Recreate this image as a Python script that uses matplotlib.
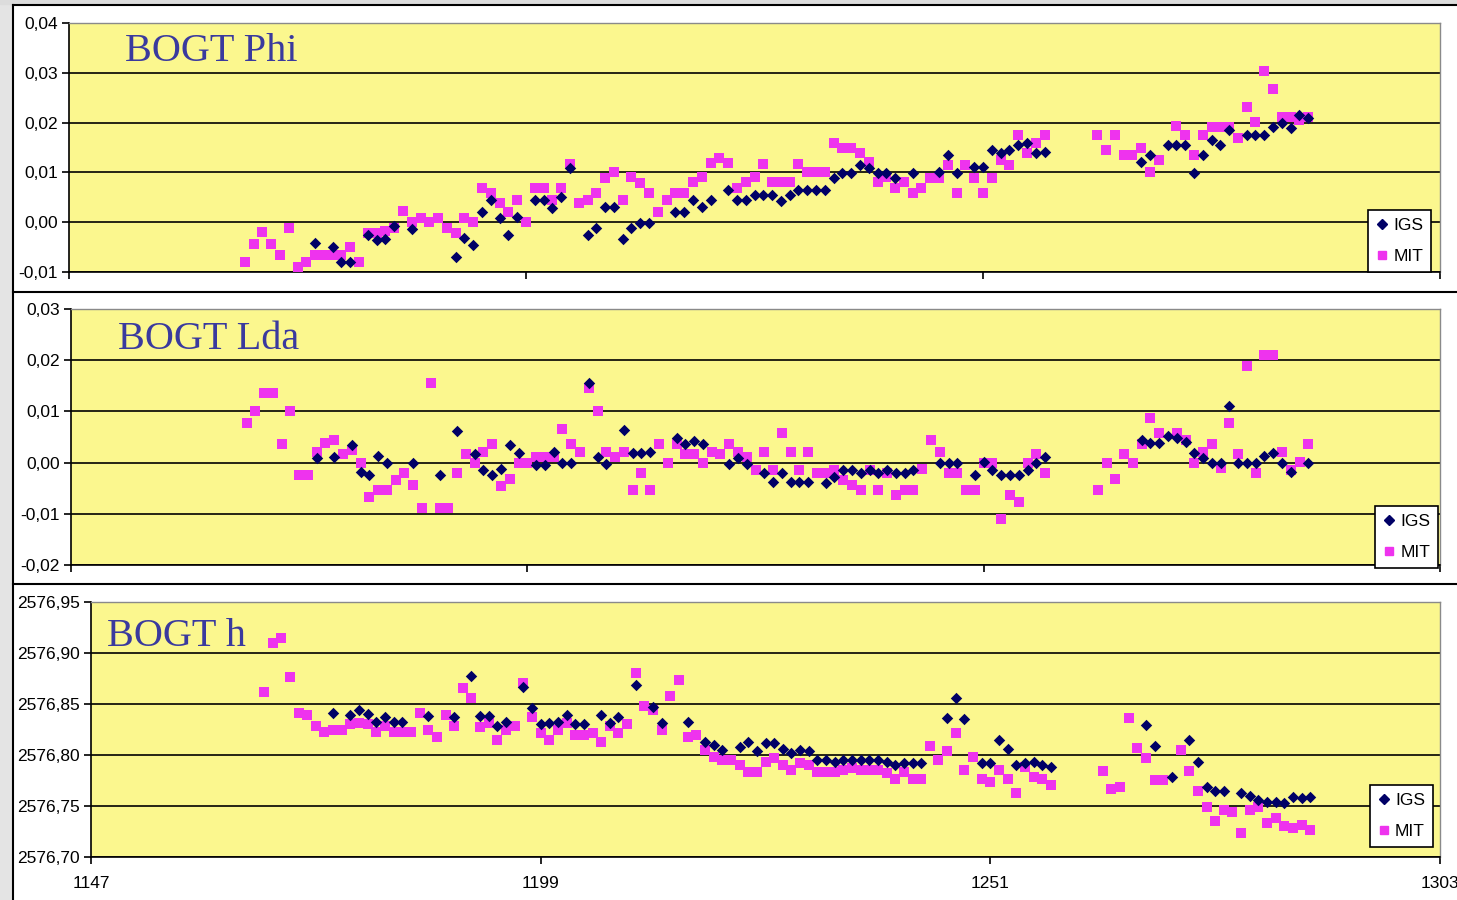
import numpy as np
import matplotlib
matplotlib.use("Agg")
import matplotlib.pyplot as plt
from matplotlib.lines import Line2D
from matplotlib.patches import Rectangle
from matplotlib.ticker import FuncFormatter

nan = np.nan

# daily solutions, one value per day from 1167 to 1288
days = np.arange(1167, 1289)
x_ticks = [1147, 1199, 1251, 1303]

phi_igs = [
    nan, nan, nan, nan, nan, nan, nan, nan, -0.0042, nan,
    -0.0050, -0.0080, -0.0080, nan, -0.0026, -0.0036, -0.0034, -0.0008, nan, -0.0014,
    nan, nan, nan, nan, -0.0070, -0.0032, -0.0046, 0.0020, 0.0045, 0.0008,
    -0.0026, 0.0010, nan, 0.0045, 0.0045, 0.0029, 0.0051, 0.0109, nan, -0.0026,
    -0.0012, 0.0031, 0.0031, -0.0034, -0.0012, -0.0002, -0.0002, nan, nan, 0.0021,
    0.0021, 0.0045, 0.0031, 0.0045, nan, 0.0065, 0.0045, 0.0045, 0.0055, 0.0055,
    0.0055, 0.0043, 0.0055, 0.0065, 0.0065, 0.0065, 0.0065, 0.0089, 0.0099, 0.0099,
    0.0115, 0.0109, 0.0099, 0.0099, 0.0089, nan, 0.0099, nan, nan, 0.0101,
    0.0135, 0.0099, nan, 0.0111, 0.0111, 0.0145, 0.0139, 0.0145, 0.0155, 0.0159,
    0.0139, 0.0141, nan, nan, nan, nan, nan, nan, nan, nan,
    nan, nan, 0.0121, 0.0135, nan, 0.0155, 0.0155, 0.0155, 0.0099, 0.0135,
    0.0165, 0.0155, 0.0185, nan, 0.0175, 0.0175, 0.0175, 0.0191, 0.0199, 0.0189,
    0.0215, 0.0209,
]
phi_mit = [
    -0.0080, -0.0044, -0.0020, -0.0044, -0.0066, -0.0012, -0.0090, -0.0080, -0.0066, -0.0066,
    -0.0066, -0.0066, -0.0050, -0.0080, -0.0022, -0.0022, -0.0018, -0.0012, 0.0022, 0.0001,
    0.0008, 0.0000, 0.0008, -0.0012, -0.0022, 0.0008, 0.0000, 0.0068, 0.0058, 0.0039,
    0.0021, 0.0045, 0.0000, 0.0069, 0.0069, 0.0045, 0.0069, 0.0117, 0.0039, 0.0045,
    0.0059, 0.0089, 0.0101, 0.0045, 0.0091, 0.0079, 0.0059, 0.0021, 0.0045, 0.0059,
    0.0059, 0.0081, 0.0091, 0.0119, 0.0129, 0.0119, 0.0069, 0.0081, 0.0091, 0.0117,
    0.0081, 0.0081, 0.0081, 0.0117, 0.0101, 0.0101, 0.0101, 0.0159, 0.0149, 0.0149,
    0.0139, 0.0121, 0.0081, 0.0091, 0.0069, 0.0081, 0.0059, 0.0069, 0.0089, 0.0089,
    0.0115, 0.0059, 0.0115, 0.0089, 0.0059, 0.0089, 0.0125, 0.0115, 0.0175, 0.0139,
    0.0159, 0.0175, nan, nan, nan, nan, nan, 0.0175, 0.0145, 0.0175,
    0.0135, 0.0135, 0.0149, 0.0101, 0.0125, nan, 0.0193, 0.0175, 0.0135, 0.0175,
    0.0191, 0.0191, 0.0191, 0.0169, 0.0231, 0.0201, 0.0304, 0.0267, 0.0211, 0.0211,
    0.0205, 0.0211,
]

lda_igs = [
    nan, nan, nan, nan, nan, nan, nan, nan, 0.0009, nan,
    0.0011, nan, 0.0035, -0.0018, -0.0024, 0.0013, 0.0000, nan, nan, 0.0000,
    nan, nan, -0.0024, nan, 0.0062, nan, 0.0016, -0.0014, -0.0024, -0.0012,
    0.0035, 0.0019, nan, -0.0004, -0.0004, 0.0021, 0.0000, 0.0000, nan, 0.0155,
    0.0011, -0.0002, nan, 0.0064, 0.0019, 0.0019, 0.0021, nan, nan, 0.0048,
    0.0037, 0.0042, 0.0037, nan, nan, -0.0002, 0.0009, -0.0002, nan, -0.0020,
    -0.0037, -0.0020, -0.0037, -0.0037, -0.0037, nan, -0.0039, -0.0028, -0.0014, -0.0014,
    -0.0020, -0.0014, -0.0020, -0.0014, -0.0020, -0.0020, -0.0014, nan, nan, 0.0000,
    0.0000, 0.0000, nan, -0.0024, 0.0002, -0.0014, -0.0024, -0.0024, -0.0024, -0.0014,
    0.0000, 0.0011, nan, nan, nan, nan, nan, nan, nan, nan,
    nan, nan, 0.0045, 0.0039, 0.0039, 0.0052, 0.0048, 0.0041, 0.0019, 0.0009,
    0.0000, 0.0000, 0.0111, 0.0000, 0.0000, 0.0000, 0.0013, 0.0019, 0.0000, -0.0018,
    nan, 0.0000,
]
lda_mit = [
    0.0078, 0.0100, 0.0135, 0.0135, 0.0037, 0.0101, -0.0024, -0.0024, 0.0021, 0.0039,
    0.0045, 0.0016, 0.0025, 0.0000, -0.0067, -0.0053, -0.0053, -0.0034, -0.0020, -0.0044,
    -0.0089, 0.0155, -0.0089, -0.0089, -0.0020, 0.0016, 0.0000, 0.0020, 0.0036, -0.0046,
    -0.0032, 0.0000, 0.0000, 0.0011, 0.0011, 0.0011, 0.0066, 0.0037, 0.0021, 0.0146,
    0.0101, 0.0021, 0.0011, 0.0021, -0.0053, -0.0020, -0.0053, 0.0037, 0.0000, 0.0037,
    0.0016, 0.0016, 0.0000, 0.0021, 0.0016, 0.0037, 0.0021, 0.0011, -0.0014, 0.0021,
    -0.0014, 0.0058, 0.0021, -0.0014, 0.0021, -0.0020, -0.0020, -0.0014, -0.0034, -0.0044,
    -0.0053, -0.0014, -0.0053, -0.0020, -0.0063, -0.0053, -0.0053, -0.0012, 0.0045, 0.0021,
    -0.0020, -0.0020, -0.0053, -0.0053, 0.0000, 0.0000, -0.0110, -0.0063, -0.0076, 0.0000,
    0.0016, -0.0020, nan, nan, nan, nan, nan, -0.0053, 0.0000, -0.0032,
    0.0016, 0.0000, 0.0037, 0.0087, 0.0058, nan, 0.0058, 0.0045, 0.0000, 0.0021,
    0.0037, -0.0010, 0.0077, 0.0016, 0.0189, -0.0020, 0.0210, 0.0210, 0.0021, -0.0014,
    0.0002, 0.0037,
]

h_igs = [
    nan, nan, nan, nan, nan, nan, nan, nan, 2576.841, nan,
    2576.839, 2576.844, 2576.840, 2576.832, 2576.837, 2576.832, 2576.832, nan, nan, 2576.838,
    nan, nan, 2576.837, nan, 2576.877, 2576.838, 2576.838, 2576.828, 2576.832, nan,
    2576.867, 2576.846, 2576.830, 2576.831, 2576.832, 2576.839, 2576.830, 2576.830, nan, 2576.839,
    2576.831, 2576.837, nan, 2576.869, nan, 2576.847, 2576.831, nan, nan, 2576.832,
    nan, 2576.813, 2576.810, 2576.805, nan, 2576.808, 2576.813, 2576.804, 2576.812, 2576.812,
    2576.806, 2576.802, 2576.805, 2576.804, 2576.795, 2576.795, 2576.793, 2576.795, 2576.795, 2576.795,
    2576.795, 2576.795, 2576.793, 2576.790, 2576.792, 2576.792, 2576.792, nan, nan, 2576.836,
    2576.856, 2576.835, nan, 2576.792, 2576.792, 2576.815, 2576.806, 2576.790, 2576.792, 2576.793,
    2576.790, 2576.788, nan, nan, nan, nan, nan, nan, nan, nan,
    nan, nan, 2576.829, 2576.809, nan, 2576.778, nan, 2576.815, 2576.793, 2576.769,
    2576.765, 2576.765, nan, 2576.763, 2576.760, 2576.756, 2576.754, 2576.754, 2576.753, 2576.759,
    2576.758, 2576.759,
]
h_mit = [
    2576.862, 2576.910, 2576.915, 2576.876, 2576.841, 2576.839, 2576.828, 2576.823, 2576.825, 2576.825,
    2576.830, 2576.831, 2576.830, 2576.823, 2576.828, 2576.823, 2576.823, 2576.823, 2576.841, 2576.825,
    2576.818, 2576.839, 2576.828, 2576.866, 2576.856, 2576.827, 2576.831, 2576.815, 2576.825, 2576.828,
    2576.871, 2576.837, 2576.822, 2576.815, 2576.825, 2576.831, 2576.820, 2576.820, 2576.822, 2576.813,
    2576.828, 2576.822, 2576.830, 2576.880, 2576.848, 2576.844, 2576.825, 2576.858, 2576.874, 2576.818,
    2576.820, 2576.805, 2576.798, 2576.795, 2576.795, 2576.790, 2576.783, 2576.783, 2576.793, 2576.797,
    2576.790, 2576.785, 2576.792, 2576.790, 2576.783, 2576.783, 2576.783, 2576.785, 2576.787, 2576.785,
    2576.785, 2576.785, 2576.782, 2576.776, 2576.783, 2576.776, 2576.776, 2576.809, 2576.795, 2576.804,
    2576.822, 2576.785, 2576.798, 2576.776, 2576.774, 2576.785, 2576.776, 2576.763, 2576.788, 2576.778,
    2576.776, 2576.771, nan, nan, nan, nan, nan, 2576.784, 2576.767, 2576.769,
    2576.836, 2576.807, 2576.797, 2576.775, 2576.775, nan, 2576.805, 2576.784, 2576.765, 2576.749,
    2576.735, 2576.746, 2576.744, 2576.724, 2576.746, 2576.749, 2576.733, 2576.738, 2576.730, 2576.728,
    2576.731, 2576.726,
]

phi_ticks = [-0.01, 0.00, 0.01, 0.02, 0.03, 0.04]
lda_ticks = [-0.02, -0.01, 0.00, 0.01, 0.02, 0.03]
h_ticks = [2576.70, 2576.75, 2576.80, 2576.85, 2576.90, 2576.95]

YELLOW = "#fbf78e"
NAVY = "#000066"
MAGENTA = "#ee33ee"
TITLE_BLUE = "#3a3a9e"
TICK_FONT = ["Liberation Sans Narrow", "Liberation Sans", "DejaVu Sans"]

W, H = 1457, 900


def comma_fmt(v, _pos):
    return f"{round(v, 4):.2f}".replace(".", ",").replace("-0,00", "0,00")


def fig_line(fig, x0, y0, x1, y1, **kw):
    # coordinates in pixels from the top-left corner
    fig.add_artist(Line2D([x0 / W, x1 / W], [1 - y0 / H, 1 - y1 / H],
                          transform=fig.transFigure, **kw))


def draw_panel(fig, rect, title, title_xy, igs, mit, ticks, legend_anchor, show_x):
    ax = fig.add_axes(rect)
    ax.set_facecolor(YELLOW)
    ax.scatter(days, mit, marker="s", s=62, color=MAGENTA, linewidths=0,
               zorder=3, label="MIT")
    ax.scatter(days, igs, marker="D", s=34, color=NAVY, linewidths=0,
               zorder=4, label="IGS")

    ax.set_xlim(x_ticks[0], x_ticks[-1])
    ax.set_ylim(ticks[0], ticks[-1])
    ax.set_xticks(x_ticks)
    ax.set_yticks(ticks)
    ax.yaxis.set_major_formatter(FuncFormatter(comma_fmt))
    ax.yaxis.grid(True, color="black", linewidth=1.2)
    ax.set_axisbelow(True)

    for side in ("left", "bottom"):
        ax.spines[side].set_color("black")
        ax.spines[side].set_linewidth(1.2)
    for side in ("top", "right"):
        ax.spines[side].set_color("#8a8a8a")
        ax.spines[side].set_linewidth(1.0)

    ax.tick_params(axis="both", direction="out", length=5, width=1.2,
                   color="black", labelsize=12.5, pad=3)
    ax.tick_params(axis="x", labelbottom=show_x, pad=9)
    for lab in ax.get_yticklabels() + ax.get_xticklabels():
        lab.set_family(TICK_FONT)

    ax.text(title_xy[0], title_xy[1], title, transform=ax.transAxes,
            fontsize=29, family=["Liberation Serif", "DejaVu Serif"],
            color=TITLE_BLUE, va="center", ha="left", zorder=5)

    handles = [
        Line2D([], [], linestyle="none", marker="D", markersize=5,
               color=NAVY, label="IGS"),
        Line2D([], [], linestyle="none", marker="s", markersize=6,
               color=MAGENTA, label="MIT"),
    ]
    leg = ax.legend(handles=handles, loc="lower left",
                    bbox_to_anchor=legend_anchor, borderaxespad=0,
                    frameon=True, fancybox=False, framealpha=1,
                    edgecolor="black", facecolor="white",
                    prop={"family": TICK_FONT, "size": 12.5},
                    handlelength=0.7, handletextpad=0.3,
                    borderpad=0.45, labelspacing=0.9)
    leg.get_frame().set_linewidth(1.2)
    leg.set_zorder(6)
    return ax


fig = plt.figure(figsize=(W / 100, H / 100), dpi=100)
fig.patch.set_facecolor("white")

# grey sheet margin on the left and top
fig.add_artist(Rectangle((0, 0), 12 / W, 1, transform=fig.transFigure,
                         color="#e4e4e4", zorder=0))
fig.add_artist(Rectangle((0, 1 - 4 / H), 1, 4 / H, transform=fig.transFigure,
                         color="#dcdcdc", zorder=0))

# chart frames
fig_line(fig, 12.5, 4.5, 12.5, 900, color="black", linewidth=1.5)
fig_line(fig, 12.5, 4.5, 1457, 4.5, color="black", linewidth=1.5)
fig_line(fig, 12.5, 292, 1457, 292, color="black", linewidth=1.5)
fig_line(fig, 12.5, 584, 1457, 584, color="black", linewidth=1.5)

draw_panel(fig, [69 / W, 1 - 272 / H, 1371 / W, 249 / H], "BOGT Phi",
           (0.041, 0.885), phi_igs, phi_mit, phi_ticks, (0.9475, 0.0), False)
draw_panel(fig, [71 / W, 1 - 565 / H, 1369 / W, 256 / H], "BOGT Lda",
           (0.034, 0.88), lda_igs, lda_mit, lda_ticks, (0.9525, -0.01), False)
draw_panel(fig, [91 / W, 1 - 857 / H, 1349 / W, 255 / H], "BOGT h",
           (0.012, 0.865), h_igs, h_mit, h_ticks, (0.948, 0.04), True)

fig.savefig("out.png", dpi=100)
